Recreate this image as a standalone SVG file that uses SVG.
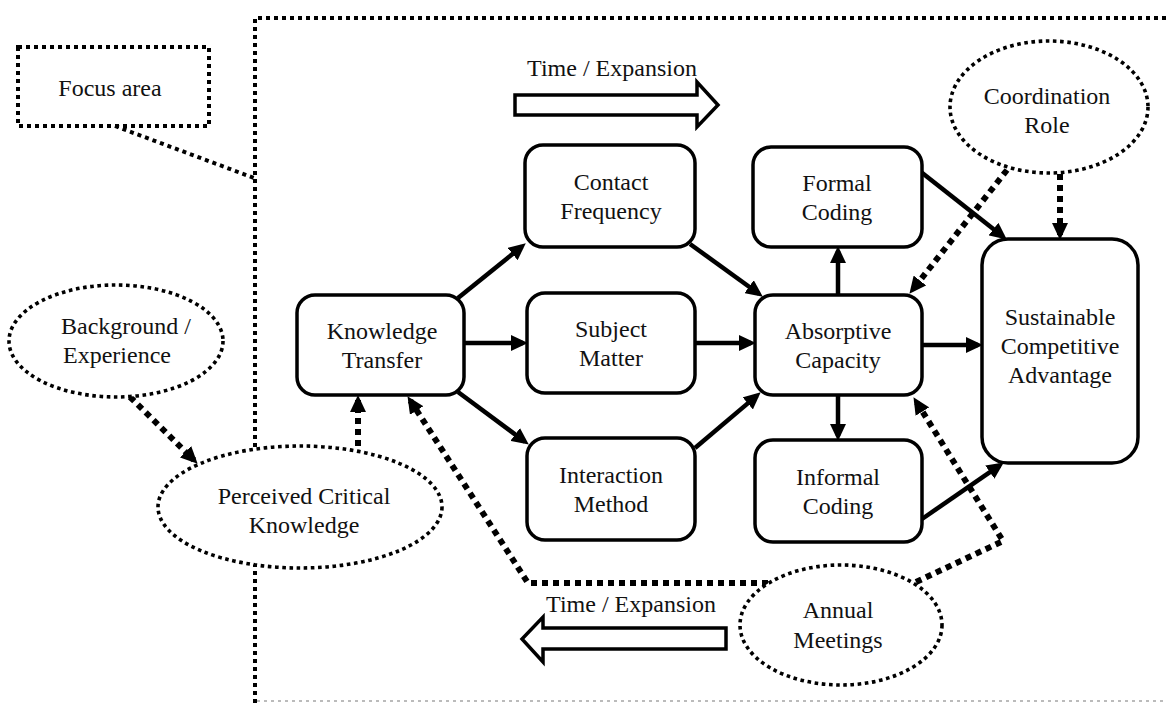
<svg xmlns="http://www.w3.org/2000/svg" width="1167" height="703" viewBox="0 0 1167 703">
<defs>
<style>
text{font-family:"Liberation Serif","Times New Roman",serif;font-size:24px;fill:#111;text-anchor:middle}
.box{fill:#fff;stroke:#000;stroke-width:3.5}
.oval{fill:#fff;stroke:#000;stroke-width:3.6;stroke-dasharray:3.6 3.6}
.frame{fill:none;stroke:#000;stroke-width:4;stroke-dasharray:4 4}
.solid{fill:none;stroke:#000;stroke-width:4.5}
.dash{fill:none;stroke:#000;stroke-width:6;stroke-dasharray:6 5}
.big{fill:#fff;stroke:#000;stroke-width:3.5;stroke-linejoin:miter}
</style>
<marker id="ah" markerUnits="userSpaceOnUse" markerWidth="18" markerHeight="16" viewBox="0 0 18 16" refX="12" refY="8" orient="auto">
<path d="M0,0 L17,8 L0,16 z" fill="#000"/>
</marker>
</defs>

<g id="frame">
<path class="frame" d="M255,703 L255,18 L1167,18"/>
<line x1="257" y1="701" x2="1167" y2="701" stroke="#bbb" stroke-width="2" stroke-dasharray="3 4"/>
</g>

<g id="focus-area">
<rect class="frame" x="18" y="47" width="191" height="79"/>
<line class="frame" x1="115" y1="126" x2="254" y2="178"/>
<text x="110" y="96">Focus area</text>
</g>

<g id="time-top">
<polygon class="big" points="515,95 697,95 697,82 718,105 697,127 697,115 515,115"/>
<text x="612" y="76">Time / Expansion</text>
</g>

<g id="time-bottom">
<polygon class="big" points="726,628 543,628 543,617 522,639 543,662 543,649 726,649"/>
<text x="631" y="612">Time / Expansion</text>
</g>

<g id="connectors">
<line class="solid" x1="458" y1="298" x2="521.9" y2="246.5" marker-end="url(#ah)"/>
<line class="solid" x1="464" y1="343" x2="523" y2="343" marker-end="url(#ah)"/>
<line class="solid" x1="458" y1="392" x2="524.8" y2="441.6" marker-end="url(#ah)"/>
<line class="solid" x1="690" y1="244" x2="758.8" y2="293.7" marker-end="url(#ah)"/>
<line class="solid" x1="695" y1="343" x2="751" y2="343" marker-end="url(#ah)"/>
<line class="solid" x1="695" y1="448" x2="756.9" y2="395.6" marker-end="url(#ah)"/>
<line class="solid" x1="838" y1="295" x2="838" y2="251" marker-end="url(#ah)"/>
<line class="solid" x1="838" y1="395" x2="838" y2="436" marker-end="url(#ah)"/>
<line class="solid" x1="922" y1="345" x2="978" y2="345" marker-end="url(#ah)"/>
<line class="solid" x1="921" y1="172" x2="1002.9" y2="236.5" marker-end="url(#ah)"/>
<line class="solid" x1="922" y1="519" x2="999.7" y2="465.3" marker-end="url(#ah)"/>
<line class="dash" x1="1060" y1="174" x2="1060" y2="235" marker-end="url(#ah)"/>
<line class="dash" x1="1007" y1="170" x2="912.5" y2="289.9" marker-end="url(#ah)"/>
<polyline class="dash" points="916,582 1003,541 916.1,401.4" marker-end="url(#ah)"/>
<polyline class="dash" points="768,583 528,583 410.2,400.4" marker-end="url(#ah)"/>
<line class="dash" x1="358" y1="446" x2="358" y2="400" marker-end="url(#ah)"/>
<line class="dash" x1="130" y1="397" x2="194.1" y2="460.2" marker-end="url(#ah)"/>
</g>

<g id="knowledge-transfer">
<rect class="box" x="297" y="295" width="167" height="100" rx="18"/>
<text x="382" y="339">Knowledge</text>
<text x="382" y="368">Transfer</text>
</g>

<g id="contact-frequency">
<rect class="box" x="525" y="145" width="170" height="102" rx="18"/>
<text x="611" y="190">Contact</text>
<text x="611" y="219">Frequency</text>
</g>

<g id="subject-matter">
<rect class="box" x="527" y="293" width="168" height="100" rx="18"/>
<text x="611" y="337">Subject</text>
<text x="611" y="366">Matter</text>
</g>

<g id="interaction-method">
<rect class="box" x="527" y="438" width="168" height="102" rx="18"/>
<text x="611" y="483">Interaction</text>
<text x="611" y="512">Method</text>
</g>

<g id="absorptive-capacity">
<rect class="box" x="755" y="295" width="167" height="100" rx="18"/>
<text x="838" y="339">Absorptive</text>
<text x="838" y="368">Capacity</text>
</g>

<g id="formal-coding">
<rect class="box" x="753" y="147" width="169" height="100" rx="18"/>
<text x="837" y="191">Formal</text>
<text x="837" y="220">Coding</text>
</g>

<g id="informal-coding">
<rect class="box" x="755" y="440" width="167" height="102" rx="18"/>
<text x="838" y="485">Informal</text>
<text x="838" y="514">Coding</text>
</g>

<g id="sustainable-competitive-advantage">
<rect class="box" x="982" y="239" width="156" height="224" rx="26"/>
<text x="1060" y="325">Sustainable</text>
<text x="1060" y="354">Competitive</text>
<text x="1060" y="383">Advantage</text>
</g>

<g id="coordination-role">
<ellipse class="oval" cx="1049" cy="107" rx="99" ry="66"/>
<text x="1047" y="104">Coordination</text>
<text x="1047" y="133">Role</text>
</g>

<g id="background-experience">
<ellipse class="oval" cx="116" cy="341" rx="107" ry="56"/>
<text x="126" y="334">Background /</text>
<text x="117" y="363">Experience</text>
</g>

<g id="perceived-critical-knowledge">
<ellipse class="oval" cx="300" cy="507" rx="142" ry="61"/>
<text x="304" y="504">Perceived Critical</text>
<text x="304" y="533">Knowledge</text>
</g>

<g id="annual-meetings">
<ellipse class="oval" cx="841" cy="625" rx="101" ry="60"/>
<text x="838" y="618">Annual</text>
<text x="838" y="648">Meetings</text>
</g>
</svg>
